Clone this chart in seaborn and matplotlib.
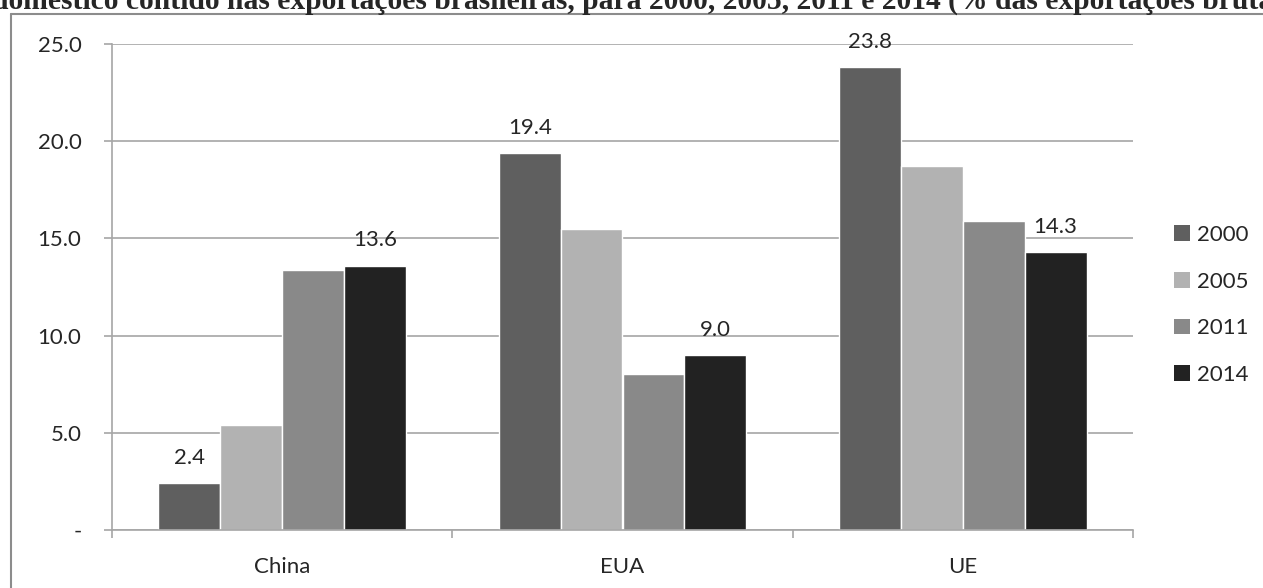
import numpy as np
import pandas as pd
import matplotlib
matplotlib.use("Agg")
import matplotlib.pyplot as plt
import seaborn as sns
from matplotlib.patches import Patch
from matplotlib.lines import Line2D

regions = ["China", "EUA", "UE"]
years = ["2000", "2005", "2011", "2014"]
v2000 = [2.4, 19.4, 23.8]
v2005 = [5.4, 15.5, 18.7]
v2011 = [13.4, 8.0, 15.9]
v2014 = [13.6, 9.0, 14.3]
yticks = [0, 5, 10, 15, 20, 25]
ytick_labels = ["-", "5.0", "10.0", "15.0", "20.0", "25.0"]
title = "doméstico contido nas exportações brasileiras, para 2000, 2005, 2011 e 2014 (% das exportações brutas)"
colors = ["#5f5f5f", "#b2b2b2", "#898989", "#222222"]

df = pd.DataFrame({
    "regiao": regions * 4,
    "ano": [y for y in years for _ in regions],
    "valor": v2000 + v2005 + v2011 + v2014,
})

sns.set_style("white")
plt.rcParams["font.family"] = ["Lato", "DejaVu Sans"]
fs = 16

fig = plt.figure(figsize=(12.63, 5.88), dpi=100)
ax = fig.add_axes([112 / 1263, 58 / 588, (1133 - 112) / 1263, 486 / 588])

sns.barplot(data=df, x="regiao", y="valor", hue="ano", palette=colors,
            width=0.727, saturation=1, ax=ax, legend=False, errorbar=None)

ax.set_ylim(0, 25)
ax.set_xlim(-0.5, 2.5)
ax.set_yticks(yticks)
ax.set_yticklabels(ytick_labels, fontsize=fs)
ax.set_xticks(range(len(regions)))
ax.set_xticklabels(regions, fontsize=fs)
ax.set_xlabel("")
ax.set_ylabel("")
ax.yaxis.grid(True, color="#a6a6a6", linewidth=1.2)
ax.set_axisbelow(True)
for s in ["top", "right"]:
    ax.spines[s].set_visible(False)
for s in ["left", "bottom"]:
    ax.spines[s].set_color("#a6a6a6")
    ax.spines[s].set_linewidth(1.2)
ax.tick_params(axis="y", which="major", left=True, length=6, color="#a6a6a6", width=1.2, pad=16)
ax.tick_params(axis="x", which="major", bottom=False, pad=16)
ax.set_xticks([-0.5, 0.5, 1.5, 2.5], minor=True)
ax.tick_params(axis="x", which="minor", bottom=True, length=6, color="#a6a6a6", width=1.2)

# rótulos só em 2000 e 2014
for cont, vals in [(ax.containers[0], v2000), (ax.containers[3], v2014)]:
    for bar, v in zip(cont, vals):
        ax.annotate(f"{v:.1f}", (bar.get_x() + bar.get_width() / 2, bar.get_height()),
                    xytext=(0, 11), textcoords="offset points", ha="center", va="bottom",
                    fontsize=fs, annotation_clip=False)

handles = [Patch(facecolor=c, edgecolor="none") for c in colors]
fig.legend(handles, years, loc="center left", bbox_to_anchor=(1163 / 1263, 1 - 305 / 588),
           frameon=False, fontsize=fs, handlelength=0.7, handleheight=0.7,
           handletextpad=0.35, labelspacing=1.2, borderpad=0)

# moldura (só esquerda e topo visíveis)
fig.add_artist(Line2D([11 / 1263, 11 / 1263], [0, 1 - 14 / 588], transform=fig.transFigure,
                      color="#8c8c8c", linewidth=1.5))
fig.add_artist(Line2D([11 / 1263, 1], [1 - 14 / 588, 1 - 14 / 588], transform=fig.transFigure,
                      color="#8c8c8c", linewidth=1.5))
fig.text(-8 / 1263, 1 - 9 / 588, title, ha="left", va="baseline", fontsize=21.3,
         fontweight="bold", family="Liberation Serif")

fig.savefig("out.png", dpi=100)
